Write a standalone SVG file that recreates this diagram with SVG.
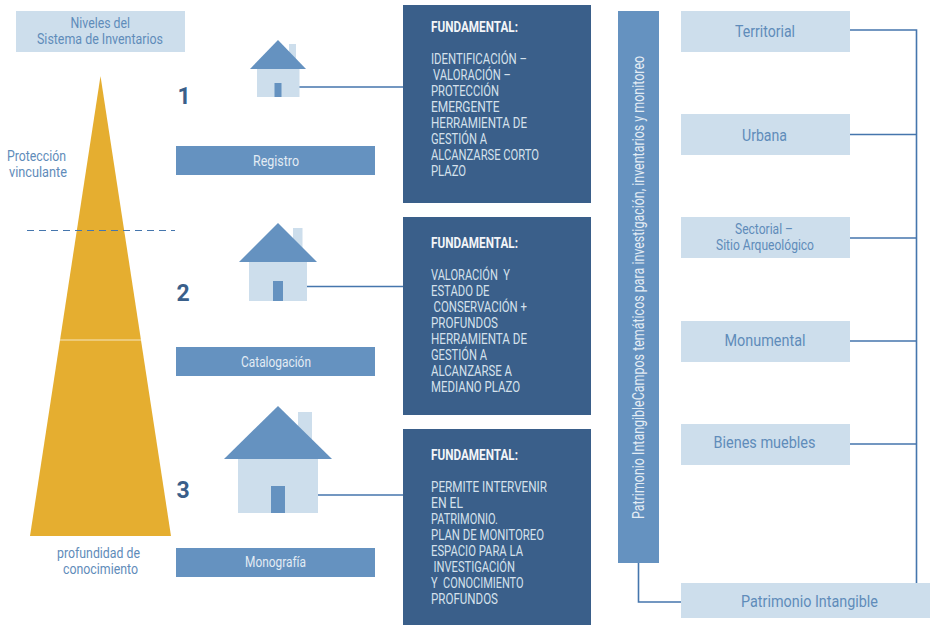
<svg xmlns="http://www.w3.org/2000/svg" width="930" height="625" viewBox="0 0 930 625">
<style>
text{font-family:"Roboto","Liberation Sans",sans-serif;font-size:14px}
.light{fill:#cddeec}.mid{fill:#6592c0}.dark{fill:#3a5f8a}.gold{fill:#e5ae30}
.tb{fill:#5f8cba}.tw{fill:#e3ecf4}.td{fill:#d5e1ec}.th{fill:#f2f5f8;font-weight:700}
.big{font-size:16px}
.num{fill:#3a5f8a;font-size:23px;font-weight:700}
.conn{fill:none;stroke:#4576ad;stroke-width:1.6}
</style>
<rect width="930" height="625" fill="#fff"/>
<g id="connectors">
<path class="conn" d="M299 87H403M307 286.500H403M317 495H403"/>
<path class="conn" d="M850 30H916.500V583M850 134.500H916.500M850 238H916.500M850 341H916.500M850 444H916.500"/>
<path class="conn" d="M638.500 563V602H681"/>
</g>
<g id="header"><rect class="light" x="16" y="11" width="169" height="41"/>
<text class="tb" x="70.500" y="28" textLength="59.500" lengthAdjust="spacingAndGlyphs">Niveles del</text>
<text class="tb" x="37" y="44" textLength="126" lengthAdjust="spacingAndGlyphs">Sistema de Inventarios</text></g>
<g id="pyramid">
<polygon class="gold" points="100.500,76 171,536 30,536"/>
<path d="M60 340H141" stroke="#f6e6c0" stroke-width="1.200"/>
<path d="M27 230.500H175" stroke="#4576ad" stroke-width="1.200" stroke-dasharray="7 5" fill="none"/>
<text class="tb" x="7" y="161" textLength="59" lengthAdjust="spacingAndGlyphs">Protección</text>
<text class="tb" x="9" y="177" textLength="58" lengthAdjust="spacingAndGlyphs">vinculante</text>
<text class="tb" x="57" y="558" textLength="83" lengthAdjust="spacingAndGlyphs">profundidad de</text>
<text class="tb" x="63" y="574" textLength="75" lengthAdjust="spacingAndGlyphs">conocimiento</text>
</g>
<g id="level1">
<rect class="light" x="289" y="44" width="7" height="20"/>
<rect class="light" x="257" y="69" width="42.500" height="28"/>
<polygon class="mid" points="278,40 306,69 250,69"/>
<rect class="mid" x="274.500" y="83" width="7" height="14"/>
<text class="num" x="177.500" y="104">1</text>
<rect class="mid" x="176" y="146" width="199" height="29"/>
<text class="tw" x="253" y="166" textLength="46" lengthAdjust="spacingAndGlyphs">Registro</text>
</g>
<g id="level2">
<rect class="light" x="293" y="228" width="9.500" height="24"/>
<rect class="light" x="249" y="262" width="58" height="39"/>
<polygon class="mid" points="278,223 317,262 239,262"/>
<rect class="mid" x="273" y="281" width="10" height="20"/>
<text class="num" x="176.500" y="301">2</text>
<rect class="mid" x="176" y="347" width="199" height="29"/>
<text class="tw" x="241" y="367" textLength="70" lengthAdjust="spacingAndGlyphs">Catalogación</text>
</g>
<g id="level3">
<rect class="light" x="298" y="412" width="14" height="35"/>
<rect class="light" x="238" y="459" width="80" height="54"/>
<polygon class="mid" points="278,406 332,459 224,459"/>
<rect class="mid" x="271" y="486" width="14" height="27"/>
<text class="num" x="176.500" y="498">3</text>
<rect class="mid" x="176" y="548" width="199" height="29"/>
<text class="tw" x="245" y="567" textLength="61" lengthAdjust="spacingAndGlyphs">Monografía</text>
</g>
<g id="box1"><rect class="dark" x="403" y="5" width="188" height="198"/>
<text class="th" x="431" y="32" textLength="87" lengthAdjust="spacingAndGlyphs">FUNDAMENTAL:</text>
<text class="td" x="431" y="64" textLength="96" lengthAdjust="spacingAndGlyphs">IDENTIFICACIÓN –</text>
<text class="td" x="433" y="80" textLength="78" lengthAdjust="spacingAndGlyphs">VALORACIÓN –</text>
<text class="td" x="431" y="96" textLength="68" lengthAdjust="spacingAndGlyphs">PROTECCIÓN</text>
<text class="td" x="431" y="112" textLength="68.500" lengthAdjust="spacingAndGlyphs">EMERGENTE</text>
<text class="td" x="431" y="128" textLength="96" lengthAdjust="spacingAndGlyphs">HERRAMIENTA DE</text>
<text class="td" x="431" y="144" textLength="56" lengthAdjust="spacingAndGlyphs">GESTIÓN A</text>
<text class="td" x="431" y="160" textLength="108" lengthAdjust="spacingAndGlyphs">ALCANZARSE CORTO</text>
<text class="td" x="431" y="176" textLength="35" lengthAdjust="spacingAndGlyphs">PLAZO</text>
</g>
<g id="box2"><rect class="dark" x="403" y="217" width="188" height="198"/>
<text class="th" x="431" y="248" textLength="87" lengthAdjust="spacingAndGlyphs">FUNDAMENTAL:</text>
<text class="td" x="431" y="280" textLength="79" lengthAdjust="spacingAndGlyphs" xml:space="preserve">VALORACIÓN  Y</text>
<text class="td" x="431" y="296" textLength="58.500" lengthAdjust="spacingAndGlyphs">ESTADO DE</text>
<text class="td" x="433.500" y="312" textLength="93.500" lengthAdjust="spacingAndGlyphs">CONSERVACIÓN +</text>
<text class="td" x="431" y="328" textLength="67" lengthAdjust="spacingAndGlyphs">PROFUNDOS</text>
<text class="td" x="431" y="344" textLength="96" lengthAdjust="spacingAndGlyphs">HERRAMIENTA DE</text>
<text class="td" x="431" y="360" textLength="56" lengthAdjust="spacingAndGlyphs">GESTIÓN A</text>
<text class="td" x="431" y="376" textLength="81" lengthAdjust="spacingAndGlyphs">ALCANZARSE A</text>
<text class="td" x="431" y="392" textLength="89" lengthAdjust="spacingAndGlyphs">MEDIANO PLAZO</text>
</g>
<g id="box3"><rect class="dark" x="403" y="429" width="188" height="196"/>
<text class="th" x="431" y="460" textLength="87" lengthAdjust="spacingAndGlyphs">FUNDAMENTAL:</text>
<text class="td" x="431" y="492" textLength="116" lengthAdjust="spacingAndGlyphs">PERMITE INTERVENIR</text>
<text class="td" x="431" y="508" textLength="32" lengthAdjust="spacingAndGlyphs">EN EL</text>
<text class="td" x="431" y="524" textLength="67" lengthAdjust="spacingAndGlyphs">PATRIMONIO.</text>
<text class="td" x="431" y="540" textLength="113" lengthAdjust="spacingAndGlyphs">PLAN DE MONITOREO</text>
<text class="td" x="431" y="556" textLength="92" lengthAdjust="spacingAndGlyphs">ESPACIO PARA LA</text>
<text class="td" x="433.500" y="572" textLength="81.500" lengthAdjust="spacingAndGlyphs">INVESTIGACIÓN</text>
<text class="td" x="431" y="588" textLength="92.500" lengthAdjust="spacingAndGlyphs" xml:space="preserve">Y  CONOCIMIENTO</text>
<text class="td" x="431" y="604" textLength="67" lengthAdjust="spacingAndGlyphs">PROFUNDOS</text>
</g>
<g id="campos"><rect class="mid" x="618" y="11" width="41" height="552"/>
<text class="tw big" transform="translate(644 519) rotate(-90) scale(.83 1)" textLength="558" lengthAdjust="spacingAndGlyphs">Patrimonio IntangibleCampos temáticos para investigación, inventarios y monitoreo</text></g>
<g id="territorial"><rect class="light" x="681" y="11" width="169" height="41"/><text class="tb big" x="735" y="37" textLength="60" lengthAdjust="spacingAndGlyphs">Territorial</text></g>
<g id="urbana"><rect class="light" x="681" y="114" width="169" height="41"/><text class="tb big" x="742" y="141" textLength="45" lengthAdjust="spacingAndGlyphs">Urbana</text></g>
<g id="sectorial"><rect class="light" x="681" y="217" width="169" height="41"/><text class="tb" x="735" y="234" textLength="58" lengthAdjust="spacingAndGlyphs">Sectorial –</text><text class="tb" x="716" y="250" textLength="98" lengthAdjust="spacingAndGlyphs">Sitio Arqueológico</text></g>
<g id="monumental"><rect class="light" x="681" y="321" width="169" height="41"/><text class="tb big" x="724.500" y="346" textLength="81" lengthAdjust="spacingAndGlyphs">Monumental</text></g>
<g id="bienes"><rect class="light" x="681" y="424" width="169" height="41"/><text class="tb big" x="713.500" y="448" textLength="102" lengthAdjust="spacingAndGlyphs">Bienes muebles</text></g>
<g id="intangible"><rect class="light" x="681" y="583" width="249" height="35"/><text class="tb big" x="741" y="607" textLength="137" lengthAdjust="spacingAndGlyphs">Patrimonio Intangible</text></g>
</svg>
